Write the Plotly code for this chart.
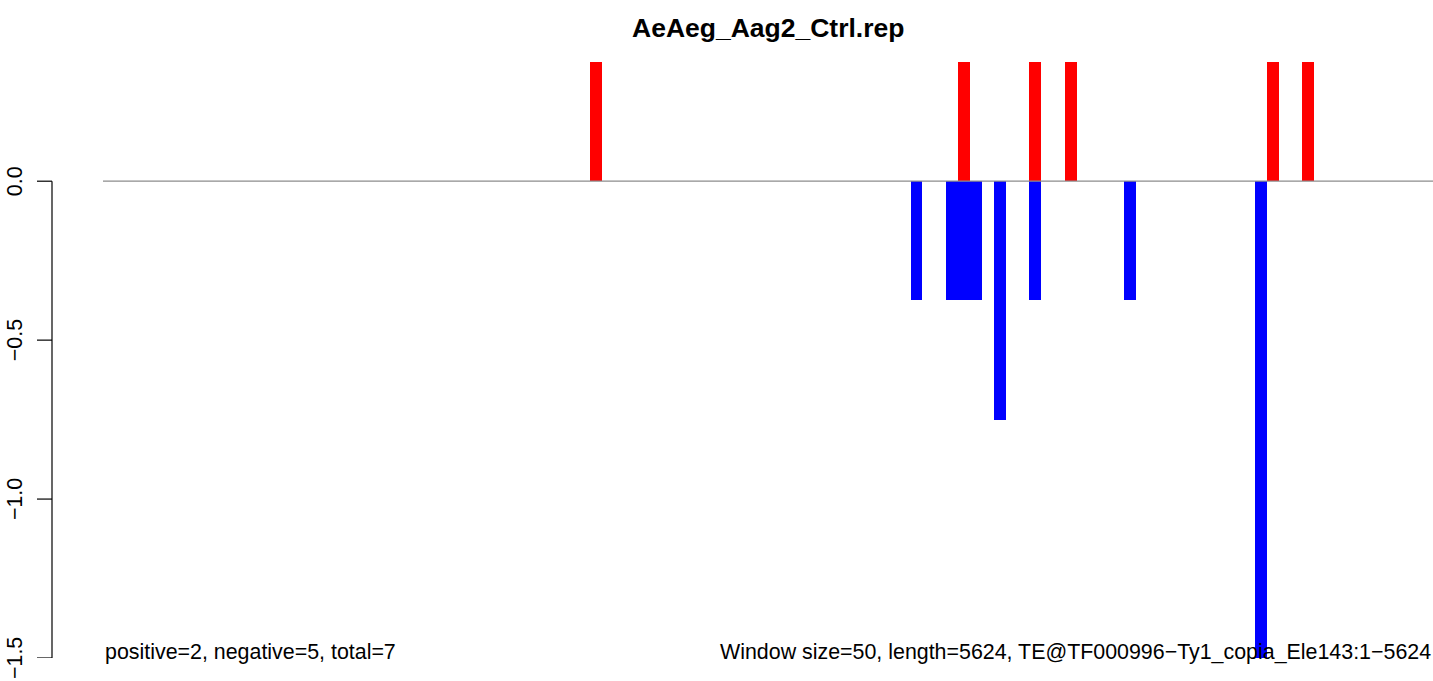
import plotly.graph_objects as go

# ---- data ----
title_text = "AeAeg_Aag2_Ctrl.rep"
window_size = 50
seq_length = 5624
n_windows = 112
pos_starts = [2050, 3600, 3900, 4050, 4900, 5050]
pos_values = [0.375, 0.375, 0.375, 0.375, 0.375, 0.375]
neg_starts = [3400, 3550, 3600, 3650, 3750, 3900, 4300, 4850]
neg_values = [-0.375, -0.375, -0.375, -0.375, -0.75, -0.375, -0.375, -1.5]
ytick_vals = [0.0, -0.5, -1.0, -1.5]
ytick_text = ["0.0", "\u22120.5", "\u22121.0", "\u22121.5"]
left_note = "positive=2, negative=5, total=7"
right_note = "Window size=50, length=5624, TE@TF000996\u2212Ty1_copia_Ele143:1\u22125624"

# ---- layout geometry (pixels) ----
W, H = 1433, 681
ML, MR, MT, MB = 103, 0, 62, 23
PW = W - ML - MR
PH = H - MT - MB

def px_to_paper_x(px):
    return (px - ML) / PW

def px_to_paper_y(py):
    return (H - MB - py) / PH

FONT = "Liberation Sans, Arial, Helvetica, sans-serif"
TXT = 21.4

fig = go.Figure()
fig.add_trace(go.Bar(
    x=[s + window_size / 2 for s in neg_starts], y=neg_values, width=window_size,
    marker=dict(color="#0000FF", line=dict(width=0)), showlegend=False, hoverinfo="x+y"))
fig.add_trace(go.Bar(
    x=[s + window_size / 2 for s in pos_starts], y=pos_values, width=window_size,
    marker=dict(color="#FF0000", line=dict(width=0)), showlegend=False, hoverinfo="x+y"))

shapes = []
# zero line
shapes.append(dict(type="line", xref="paper", yref="y", x0=0, x1=1, y0=0, y1=0,
                   line=dict(color="#8c8c8c", width=1.2), layer="above"))
# manual y axis
ax_x = px_to_paper_x(52)
tick_x0 = px_to_paper_x(37)
shapes.append(dict(type="line", xref="paper", yref="y", x0=ax_x, x1=ax_x,
                   y0=max(ytick_vals), y1=min(ytick_vals), line=dict(color="black", width=1.2)))
annotations = []
for v, t in zip(ytick_vals, ytick_text):
    shapes.append(dict(type="line", xref="paper", yref="y", x0=tick_x0, x1=ax_x, y0=v, y1=v,
                       line=dict(color="black", width=1.2)))
    annotations.append(dict(text=t, xref="paper", yref="y", x=px_to_paper_x(15), y=v,
                            textangle=-90, showarrow=False, xanchor="center", yanchor="middle",
                            font=dict(family=FONT, size=TXT, color="black")))

annotations.append(dict(text="<b>" + title_text + "</b>", xref="paper", yref="paper",
                        x=0.5, y=px_to_paper_y(28.5), xanchor="center", yanchor="middle",
                        showarrow=False, font=dict(family=FONT, size=26.5, color="black")))
annotations.append(dict(text=left_note, xref="paper", yref="paper",
                        x=0, y=px_to_paper_y(652), xanchor="left", yanchor="middle",
                        showarrow=False, font=dict(family=FONT, size=TXT, color="black")))
annotations.append(dict(text=right_note, xref="paper", yref="paper",
                        x=1, y=px_to_paper_y(652), xanchor="right", yanchor="middle",
                        showarrow=False, font=dict(family=FONT, size=TXT, color="black")))

fig.update_layout(
    width=W, height=H, autosize=False,
    margin=dict(l=ML, r=MR, t=MT, b=MB, pad=0),
    paper_bgcolor="white", plot_bgcolor="white",
    barmode="overlay", bargap=0,
    xaxis=dict(range=[0, n_windows * window_size], visible=False, fixedrange=True),
    yaxis=dict(range=[-1.5, 0.375], visible=False, fixedrange=True),
    shapes=shapes, annotations=annotations,
    font=dict(family=FONT, color="black"),
)

fig.write_html("out.html", config={"displayModeBar": False},
               post_script="document.body.style.margin='0';document.body.style.overflow='hidden';")
